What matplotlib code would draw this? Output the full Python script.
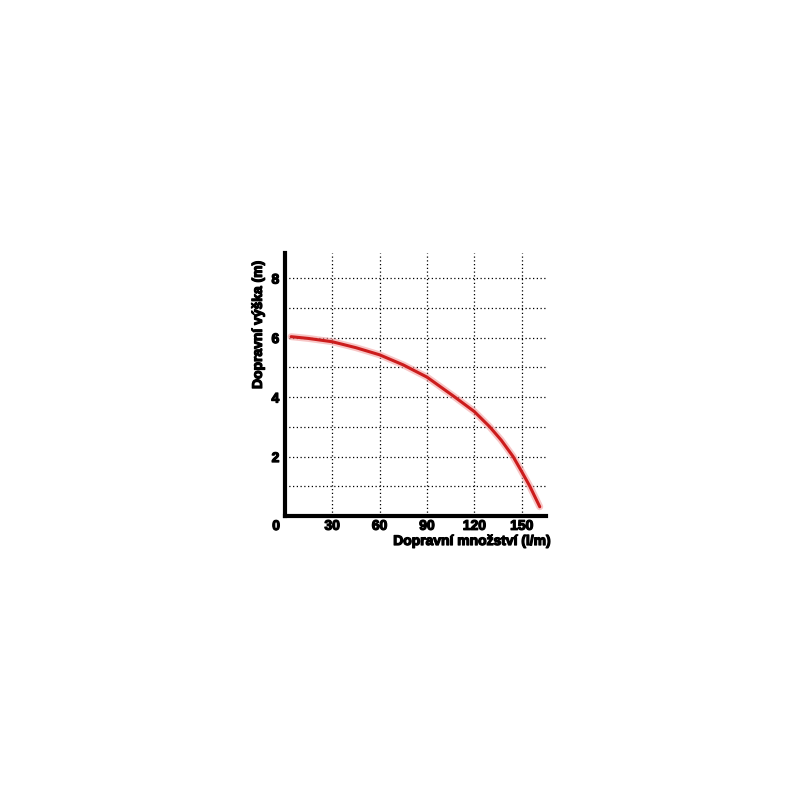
import matplotlib.pyplot as plt
import matplotlib.patheffects as pe

# pump curve
flow = [4, 15, 30, 45, 60, 75, 90, 107.6, 120, 129.7, 137, 144.5, 150, 155.1, 161.4]
head = [6.03, 5.97, 5.86, 5.66, 5.42, 5.08, 4.67, 4.0, 3.51, 3.0, 2.55, 2.0, 1.49, 1.0, 0.31]

x_ticks = [30, 60, 90, 120, 150]
y_ticks = [2, 4, 6, 8]
y_minor = [1, 3, 5, 7]

plt.rcParams['font.family'] = ['Liberation Sans', 'DejaVu Sans']
plt.rcParams['font.weight'] = 'bold'

heavy = [pe.withStroke(linewidth=0.9, foreground='black')]

fig = plt.figure(figsize=(8, 8), dpi=100)
ax = fig.add_axes([0.356, 0.355, 0.327, 0.329])

ax.plot(flow, head, color='#f3a0a0', linewidth=5, alpha=0.6,
        solid_capstyle='round', solid_joinstyle='round')
ax.plot(flow, head, color='#cc1c1c', linewidth=2.2,
        solid_capstyle='round', solid_joinstyle='round')

ax.set_xlim(0, 165.6)
ax.set_ylim(0, 8.85)
ax.set_xticks(x_ticks)
ax.set_yticks(y_ticks)
ax.set_yticks(y_minor, minor=True)
ax.tick_params(axis='x', which='both', length=0, labelsize=10, pad=2)
ax.tick_params(axis='y', which='both', length=0, labelsize=10, pad=4)
for lab in ax.get_xticklabels() + ax.get_yticklabels():
    lab.set_fontweight('bold')
    lab.set_path_effects(heavy)

ax.grid(True, which='both', color='black', linestyle=(0, (1, 2)), linewidth=0.9)
ax.set_axisbelow(True)

for side in ['top', 'right']:
    ax.spines[side].set_visible(False)
for side in ['left', 'bottom']:
    ax.spines[side].set_linewidth(3)

ax.text(-5.5, -0.1, '0', ha='center', va='top', fontsize=10, fontweight='bold',
        path_effects=heavy)

ax.set_xlabel('Dopravní množství (l/m)', fontsize=10, fontweight='bold',
              ha='right', va='center', path_effects=heavy)
ax.xaxis.set_label_coords(1.016, -0.095)
ax.set_ylabel('Dopravní výška (m)', fontsize=10, fontweight='bold',
              ha='center', va='center', path_effects=heavy)
ax.yaxis.set_label_coords(-0.103, 0.726)

fig.savefig('out.png', dpi=100)
